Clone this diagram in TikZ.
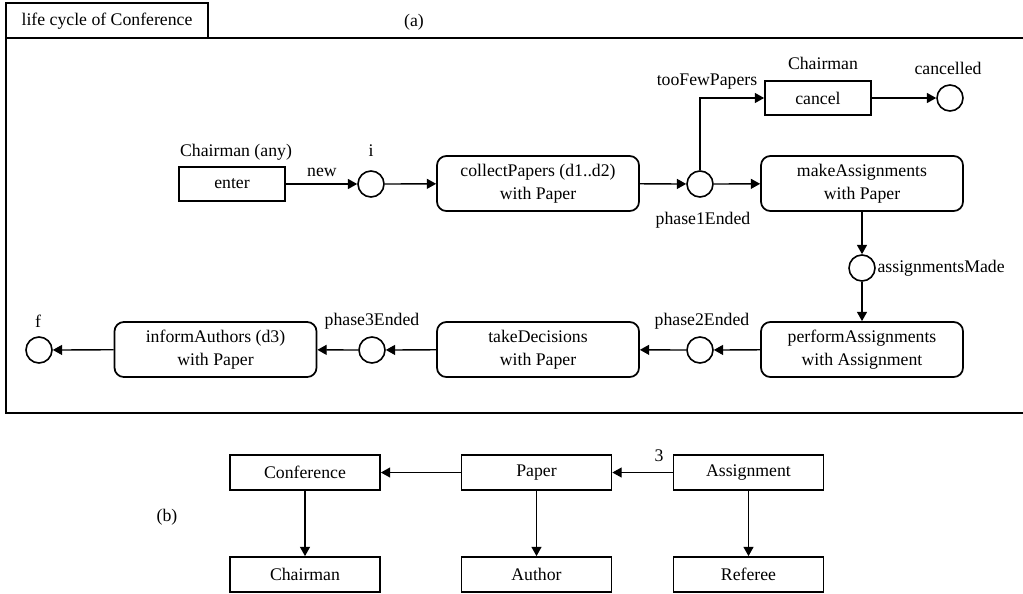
\documentclass[tikz,border=0pt]{standalone}
\usepackage{fontspec}
\setmainfont{Liberation Serif}
\usetikzlibrary{arrows.meta}
\begin{document}
\begin{tikzpicture}[x=0.75pt,y=-0.75pt,
  font=\fontsize{13.3pt}{17.6pt}\selectfont,
  actbox/.style={draw,line width=1.3pt,rounded corners=7pt,minimum width=151.5pt,minimum height=41.25pt,align=center,inner sep=2pt},
  rolebox/.style={draw,line width=1.3pt,minimum width=79.5pt,minimum height=25.5pt,inner sep=2pt},
  classbox/.style={draw,line width=1.3pt,minimum width=112.5pt,minimum height=26.25pt,inner sep=2pt},
  stnode/.style={draw,circle,line width=1.2pt,minimum size=19.5pt,inner sep=0pt},
  lbl/.style={inner sep=1pt},
  conn/.style={line width=1pt,-{Triangle[length=7pt,width=7.5pt]}}
]
\useasboundingbox (0,0) rectangle (1023,593);
% frame
\draw[line width=1.3pt] (6,3) rectangle (208,38);
\node[lbl] (tabtxt) at (107,21) {life cycle of Conference};
\draw[line width=1.3pt] (6,38) rectangle (1026,413);
\node[lbl] (alabel) at (414,22) {(a)};
% part (a)
\node[rolebox] (enter) at (232,184) {enter};
\node[lbl] (enterrole) at (236,152) {Chairman (any)};
\node[stnode] (si) at (371,184) {};
\node[lbl] (silbl) at (371,151) {i};
\node[actbox] (collect) at (538,183.5) {collectPapers (d1..d2)\\with Paper};
\node[stnode] (p1) at (700,184) {};
\node[lbl] (p1lbl) at (703,220) {phase1Ended};
\node[rolebox] (cancel) at (818,98) {cancel};
\node[lbl] (cancelrole) at (823,63) {Chairman};
\node[stnode] (cancelled) at (950,98) {};
\node[lbl] (cancelledlbl) at (948,68) {cancelled};
\node[lbl] (toofew) at (707,82) {tooFewPapers};
\node[actbox] (make) at (862,183.5) {makeAssignments\\with Paper};
\node[stnode] (am) at (862,268) {};
\node[lbl,anchor=west] (amlbl) at (876,268) {assignmentsMade};
\node[actbox] (perform) at (862,349.5) {performAssignments\\with Assignment};
\node[stnode] (p2) at (700,350) {};
\node[lbl] (p2lbl) at (702,321) {phase2Ended};
\node[actbox] (take) at (538,349.5) {takeDecisions\\with Paper};
\node[stnode] (p3) at (372,350) {};
\node[lbl] (p3lbl) at (372,321) {phase3Ended};
\node[actbox] (inform) at (215.5,349.5) {informAuthors (d3)\\with Paper};
\node[stnode] (sf) at (39,350) {};
\node[lbl] (sflbl) at (38,321) {f};
\node[lbl] (newlbl) at (322,172) {new};
\draw[conn] (enter) -- (si);
\draw[conn] (si) -- (collect);
\draw[conn] (collect) -- (p1);
\draw[conn] (p1) -- (make);
\draw[conn] (p1.north) |- (cancel.west);
\draw[conn] (cancel) -- (cancelled);
\draw[conn] (make) -- (am);
\draw[conn] (am) -- (perform);
\draw[conn] (perform) -- (p2);
\draw[conn] (p2) -- (take);
\draw[conn] (take) -- (p3);
\draw[conn] (p3) -- (inform);
\draw[conn] (inform) -- (sf);
% part (b)
\node[lbl] (blabel) at (167,517) {(b)};
\node[classbox] (conf) at (305,472.5) {Conference};
\node[classbox] (paper) at (536.5,472.5) {Paper};
\node[classbox] (assign) at (748.5,472.5) {Assignment};
\node[classbox] (chair) at (305,574.5) {Chairman};
\node[classbox] (author) at (536.5,574.5) {Author};
\node[classbox] (referee) at (748.5,574.5) {Referee};
\node[lbl] (three) at (659,456) {3};
\draw[conn] (paper) -- (conf);
\draw[conn] (assign) -- (paper);
\draw[conn] (conf) -- (chair);
\draw[conn] (paper) -- (author);
\draw[conn] (assign) -- (referee);
\end{tikzpicture}
\end{document}
